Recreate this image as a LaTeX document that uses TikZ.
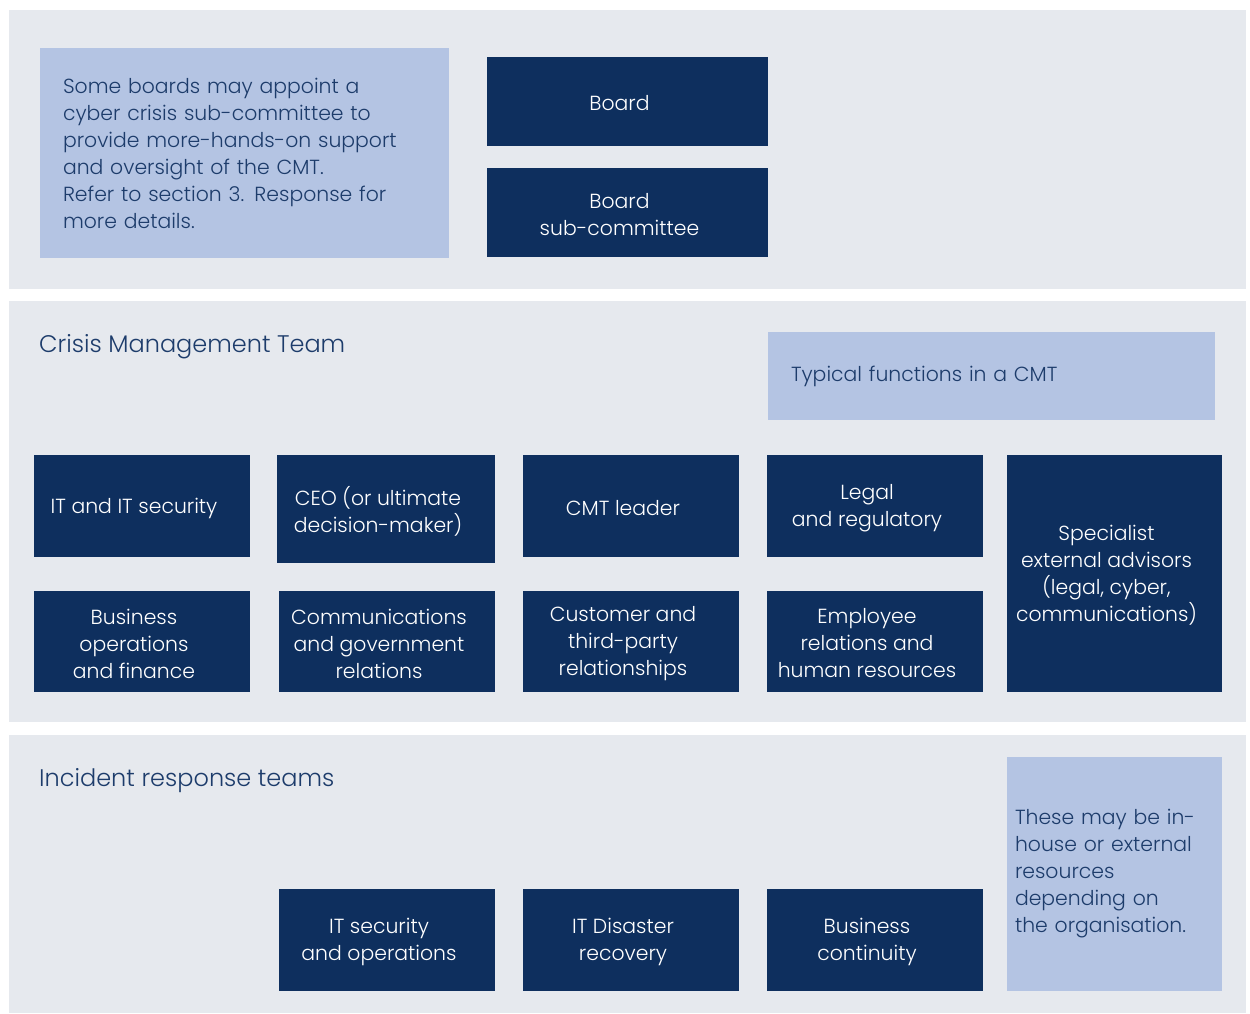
\documentclass[tikz,border=0pt]{standalone}
\usepackage{fontspec}
\setmainfont{Poppins Light}
\definecolor{panelgrey}{HTML}{E6E9EE}
\definecolor{paleblue}{HTML}{B4C4E3}
\definecolor{navy}{HTML}{0E2F5E}
\definecolor{inktext}{HTML}{1D3C6B}
\begin{document}
\begin{tikzpicture}[x=1pt,y=-1pt,font=\fontsize{20.4}{27}\selectfont,
  panel/.style={fill=panelgrey},
  navybox/.style={fill=navy,inner sep=0pt,minimum width=216,minimum height=102,
    label={[navytext]center:{#1}}},
  navytext/.style={text=white,align=center,inner sep=0pt,xshift=-8pt,yshift=-2pt},
  notebox/.style={fill=paleblue,text=inktext,align=left,inner ysep=0pt},
  heading/.style={text=inktext,anchor=base west,inner sep=0pt,font=\fontsize{24}{30}\selectfont}]
  \useasboundingbox[fill=white] (0,0) rectangle (1250,1014);
  \fill[panel] (9,10) rectangle (1246,289);
  \fill[panel] (9,301) rectangle (1246,722);
  \fill[panel] (9,735) rectangle (1246,1013);

  \node[notebox,inner xsep=23,text width=363,minimum height=210] (subnote) at (244.5,153)
    {Some boards may appoint a\\cyber crisis sub-committee to\\provide more-hands-on support\\and oversight of the CMT.\\Refer to section 3. Response for\\more details.};
  \node[navybox={Board},minimum width=281,minimum height=89] (board) at (627.5,101.5) {};
  \node[navybox={Board\\sub-committee},minimum width=281,minimum height=89] (subcom) at (627.5,212.5) {};

  \node[heading] (cmt) at (39,352) {Crisis Management Team};
  \node[notebox,inner xsep=23,text width=401,minimum height=88] (typical) at (991.5,376) {Typical functions in a CMT};
  \node[navybox={IT and IT security}] (itsec) at (142,506) {};
  \node[navybox={CEO (or ultimate\\decision-maker)},minimum width=218,minimum height=108] (ceo) at (386,509) {};
  \node[navybox={CMT leader}] (leader) at (631,506) {};
  \node[navybox={Legal\\and regulatory}] (legal) at (875,506) {};
  \node[navybox={Specialist\\external advisors\\(legal, cyber,\\communications)},minimum width=215,minimum height=237] (advisors) at (1114.5,573.5) {};
  \node[navybox={Business\\operations\\and finance},minimum height=101] (bizops) at (142,641.5) {};
  \node[navybox={Communications\\and government\\relations},minimum height=101] (comms) at (387,641.5) {};
  \node[navybox={Customer and\\third-party\\relationships},minimum height=101] (customer) at (631,641.5) {};
  \node[navybox={Employee\\relations and\\human resources},minimum height=101] (employee) at (875,641.5) {};

  \node[heading] (irt) at (39,786) {Incident response teams};
  \node[navybox={IT security\\and operations}] (secops) at (387,940) {};
  \node[navybox={IT Disaster\\recovery}] (disaster) at (631,940) {};
  \node[navybox={Business\\continuity}] (continuity) at (875,940) {};
  \node[notebox,inner xsep=8,text width=199,minimum height=234] (resources) at (1114.5,874)
    {These may be in-\\house or external\\resources\\depending on\\the organisation.};
\end{tikzpicture}
\end{document}
